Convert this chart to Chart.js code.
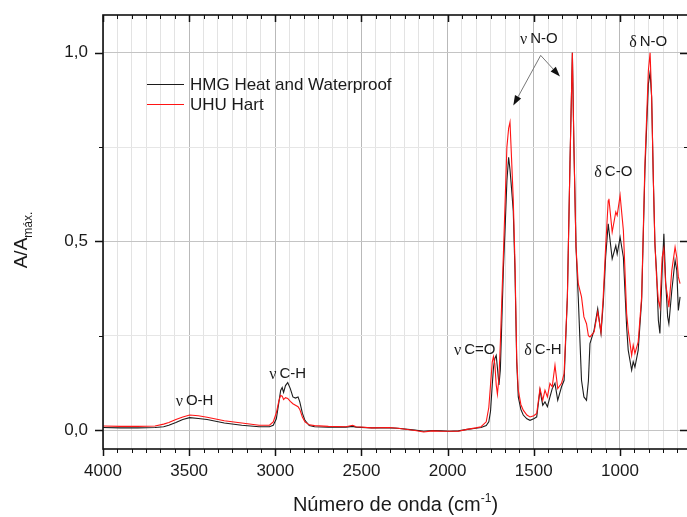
<!DOCTYPE html>
<html>
<head>
<meta charset="utf-8">
<script src="https://cdn.jsdelivr.net/npm/chart.js@4.4.0/dist/chart.umd.min.js"></script>
<style>
html, body { margin: 0; padding: 0; background: #fff; overflow: hidden; }
#wrap { position: relative; width: 689px; height: 517px; }
</style>
</head>
<body>
<div id="wrap"><canvas id="spectrum"></canvas></div>
<script>
// FTIR spectra of two adhesives, absorbance normalised to the max

const wavenumbers = [4000, 3899, 3799, 3698, 3648, 3618, 3577, 3537, 3497, 3447, 3396, 3296, 3195, 3094, 3034, 3012,
    2994, 2979, 2969, 2960, 2952, 2941, 2928, 2913, 2898, 2883, 2868, 2858, 2843, 2828, 2803, 2772, 2692, 2591, 2551,
    2531, 2440, 2340, 2289, 2189, 2139, 2088, 2038, 1988, 1937, 1887, 1837, 1806, 1776, 1761, 1751, 1741, 1734, 1726,
    1718, 1711, 1702, 1694, 1686, 1676, 1666, 1656, 1646, 1638, 1629, 1619, 1609, 1599, 1590, 1575, 1561, 1540, 1522,
    1500, 1483, 1464, 1448, 1435, 1421, 1406, 1393, 1377, 1361, 1339, 1324, 1305, 1290, 1276, 1267, 1255, 1242, 1223,
    1209, 1194, 1183, 1174, 1150, 1129, 1110, 1097, 1083, 1068, 1064, 1045, 1024, 1016, 999, 980, 961, 952, 932, 923,
    913, 894, 874, 855, 835, 825, 816, 806, 797, 787, 777, 768, 755, 745, 735, 723, 716, 699, 680, 670, 661, 651];

const hmgValues = [0.007, 0.006, 0.006, 0.007, 0.009, 0.013, 0.020, 0.028, 0.033, 0.031, 0.028, 0.019, 0.013, 0.009, 0.009, 0.013,
    0.030, 0.075, 0.105, 0.113, 0.100, 0.118, 0.126, 0.110, 0.088, 0.085, 0.088, 0.075, 0.045, 0.026, 0.012, 0.009, 0.008, 0.008, 0.010,
    0.008, 0.006, 0.006, 0.005, 0.000, -0.003, -0.001, -0.002, -0.003, -0.002, 0.002, 0.005, 0.007, 0.012, 0.022, 0.050, 0.120, 0.165, 0.190,
    0.198, 0.165, 0.120, 0.160, 0.280, 0.430, 0.540, 0.660, 0.723, 0.690, 0.640, 0.580, 0.420, 0.180, 0.088, 0.055, 0.040, 0.030, 0.026,
    0.030, 0.035, 0.106, 0.066, 0.075, 0.062, 0.088, 0.110, 0.124, 0.079, 0.115, 0.132, 0.353, 0.706, 1.000, 0.749, 0.485, 0.353, 0.132,
    0.088, 0.079, 0.130, 0.229, 0.265, 0.322, 0.256, 0.335, 0.458, 0.547, 0.547, 0.454, 0.489, 0.467, 0.511, 0.458, 0.273, 0.212, 0.159, 0.181,
    0.167, 0.212, 0.344, 0.688, 0.917, 0.948, 0.882, 0.661, 0.494, 0.415, 0.291, 0.256, 0.423, 0.520, 0.397, 0.300, 0.282, 0.370, 0.450, 0.423, 0.317, 0.353];

const uhuValues = [0.011, 0.010, 0.010, 0.011, 0.016, 0.020, 0.028, 0.035, 0.040, 0.038, 0.034, 0.025, 0.019, 0.013, 0.013, 0.022,
    0.046, 0.078, 0.092, 0.090, 0.081, 0.086, 0.084, 0.076, 0.070, 0.066, 0.062, 0.055, 0.035, 0.022, 0.014, 0.012, 0.010, 0.009, 0.013,
    0.009, 0.006, 0.007, 0.005, -0.001, -0.005, -0.002, -0.003, -0.003, -0.003, 0.002, 0.006, 0.009, 0.022, 0.060, 0.120, 0.180, 0.195, 0.175,
    0.120, 0.095, 0.140, 0.230, 0.340, 0.470, 0.610, 0.750, 0.800, 0.816, 0.720, 0.610, 0.440, 0.190, 0.106, 0.068, 0.053, 0.040, 0.035,
    0.038, 0.044, 0.110, 0.079, 0.106, 0.088, 0.124, 0.115, 0.172, 0.110, 0.124, 0.150, 0.353, 0.706, 1.000, 0.749, 0.485, 0.388, 0.353,
    0.300, 0.282, 0.250, 0.247, 0.260, 0.313, 0.260, 0.353, 0.485, 0.608, 0.613, 0.525, 0.578, 0.569, 0.622, 0.529, 0.309, 0.265, 0.198, 0.225,
    0.203, 0.234, 0.353, 0.706, 0.952, 1.000, 0.882, 0.661, 0.494, 0.401, 0.344, 0.326, 0.458, 0.481, 0.388, 0.353, 0.326, 0.423, 0.485, 0.458, 0.406, 0.388];

const seriesNames = ['HMG Heat and Waterproof', 'UHU Hart'];
const seriesColors = ['#1c1c1c', '#ff1414'];

const xMajorTicks = [4000, 3500, 3000, 2500, 2000, 1500, 1000, 500];
const xMinorSteps = 6;
const yTicks = [0, 0.25, 0.5, 0.75, 1.0];
const yTickLabels = ['0,0', '', '0,5', '', '1,0'];

// band assignments: greek letter, group, anchor (wavenumber, absorbance)
const bandLabels = [
    { greek: 'ν', text: 'O-H', wn: 3578, a: 0.077 },
    { greek: 'ν', text: 'C-H', wn: 3035, a: 0.150 },
    { greek: 'ν', text: 'C=O', wn: 1963, a: 0.214 },
    { greek: 'δ', text: 'C-H', wn: 1555, a: 0.214 },
    { greek: 'ν', text: 'N-O', wn: 1580, a: 1.037 },
    { greek: 'δ', text: 'C-O', wn: 1149, a: 0.684 },
    { greek: 'δ', text: 'N-O', wn: 946, a: 1.028 }
];
const arrowFrom = { wn: 1460, a: 0.993 };
const arrowTo = [{ wn: 1619, a: 0.860 }, { wn: 1348, a: 0.937 }];

const SANS = '"Liberation Sans", Arial, sans-serif';
const SERIF = '"Liberation Serif", "Times New Roman", serif';
const TEXT = '#1a1a1a';

// all x tick positions (majors plus minor subdivisions)
const xTickValues = [];
xMajorTicks.forEach(m => {
    for (let i = 0; i < xMinorSteps; i++) {
        const v = m - i * 500 / xMinorSteps;
        if (v >= 605 && v <= 4000) xTickValues.push(v);
    }
});

function isMajorX(v) {
    return Math.abs(v / 500 - Math.round(v / 500)) < 1e-6;
}
function isMajorY(v) {
    return Math.abs(v / 0.5 - Math.round(v / 0.5)) < 1e-6;
}

const framePlugin = {
    id: 'frame',
    afterDraw(chart) {
        const { ctx, chartArea: a, scales: { x, y } } = chart;
        ctx.save();

        // ticks
        ctx.strokeStyle = '#111';
        x.ticks.forEach(t => {
            const px = Math.round(x.getPixelForValue(t.value)) + 0.5;
            const major = isMajorX(t.value);
            const len = major ? 7 : 4;
            ctx.lineWidth = major ? 1.5 : 1;
            ctx.beginPath();
            ctx.moveTo(px, a.bottom); ctx.lineTo(px, a.bottom + len);
            ctx.moveTo(px, a.top); ctx.lineTo(px, a.top + len);
            ctx.stroke();
        });
        y.ticks.forEach(t => {
            const py = Math.round(y.getPixelForValue(t.value)) + 0.5;
            const major = isMajorY(t.value);
            const len = major ? 8 : 4;
            ctx.lineWidth = major ? 1.5 : 1;
            ctx.beginPath();
            ctx.moveTo(a.left - len, py); ctx.lineTo(a.left, py);
            ctx.moveTo(a.right - len, py); ctx.lineTo(a.right, py);
            ctx.stroke();
        });

        // frame
        ctx.lineWidth = 1.6;
        ctx.strokeRect(a.left, a.top, a.right - a.left, a.bottom - a.top);

        // x title with superscript
        ctx.fillStyle = TEXT;
        ctx.textBaseline = 'alphabetic';
        ctx.textAlign = 'left';
        const main = 'Número de onda (cm';
        ctx.font = '20px ' + SANS;
        const w1 = ctx.measureText(main).width;
        const w3 = ctx.measureText(')').width;
        ctx.font = '12px ' + SANS;
        const w2 = ctx.measureText('-1').width;
        let tx = (a.left + a.right) / 2 - (w1 + w2 + w3) / 2;
        const ty = 511;
        ctx.font = '20px ' + SANS;
        ctx.fillText(main, tx, ty);
        ctx.font = '12px ' + SANS;
        ctx.fillText('-1', tx + w1, ty - 9);
        ctx.font = '20px ' + SANS;
        ctx.fillText(')', tx + w1 + w2, ty);

        // y title with subscript, rotated
        ctx.save();
        ctx.translate(27, 240);
        ctx.rotate(-Math.PI / 2);
        ctx.font = '19px ' + SANS;
        const yw1 = ctx.measureText('A/A').width;
        ctx.font = '12px ' + SANS;
        const yw2 = ctx.measureText('máx.').width;
        const ys = -(yw1 + yw2) / 2;
        ctx.font = '19px ' + SANS;
        ctx.fillText('A/A', ys, 0);
        ctx.font = '12px ' + SANS;
        ctx.fillText('máx.', ys + yw1, 5);
        ctx.restore();

        // legend
        const legendX = 147, legendY = [84.5, 104.5];
        seriesNames.forEach((name, i) => {
            ctx.strokeStyle = seriesColors[i];
            ctx.lineWidth = 1;
            ctx.beginPath();
            ctx.moveTo(legendX, legendY[i]); ctx.lineTo(legendX + 37, legendY[i]);
            ctx.stroke();
            ctx.fillStyle = TEXT;
            ctx.font = '17px ' + SANS;
            ctx.textBaseline = 'middle';
            ctx.fillText(name, legendX + 43, legendY[i] + 1);
        });

        // band labels
        ctx.textBaseline = 'middle';
        bandLabels.forEach(b => {
            const px = x.getPixelForValue(b.wn);
            const py = y.getPixelForValue(b.a);
            ctx.font = '16px ' + SERIF;
            ctx.fillText(b.greek, px, py + 1);
            const gw = ctx.measureText(b.greek).width;
            ctx.font = '15px ' + SANS;
            ctx.fillText(b.text, px + gw + 3, py);
        });

        // arrows for the N-O stretch
        const ax = x.getPixelForValue(arrowFrom.wn);
        const ay = y.getPixelForValue(arrowFrom.a);
        arrowTo.forEach(t => {
            const bx = x.getPixelForValue(t.wn);
            const by = y.getPixelForValue(t.a);
            const ang = Math.atan2(by - ay, bx - ax);
            const hl = 10, hw = 3.5;
            const baseX = bx - hl * Math.cos(ang), baseY = by - hl * Math.sin(ang);
            ctx.strokeStyle = '#777';
            ctx.lineWidth = 1;
            ctx.beginPath();
            ctx.moveTo(ax, ay); ctx.lineTo(baseX, baseY);
            ctx.stroke();
            ctx.fillStyle = '#111';
            ctx.beginPath();
            ctx.moveTo(bx, by);
            ctx.lineTo(baseX + hw * Math.sin(ang), baseY - hw * Math.cos(ang));
            ctx.lineTo(baseX - hw * Math.sin(ang), baseY + hw * Math.cos(ang));
            ctx.closePath();
            ctx.fill();
        });

        ctx.restore();
    }
};

const ctx = document.getElementById('spectrum').getContext('2d');
new Chart(ctx, {
    type: 'line',
    data: {
        datasets: [
            {
                label: seriesNames[0],
                data: wavenumbers.map((w, i) => ({ x: w, y: hmgValues[i] })),
                borderColor: seriesColors[0],
                borderWidth: 1.1,
                pointRadius: 0,
                tension: 0,
                order: 2
            },
            {
                label: seriesNames[1],
                data: wavenumbers.map((w, i) => ({ x: w, y: uhuValues[i] })),
                borderColor: seriesColors[1],
                borderWidth: 1.1,
                pointRadius: 0,
                tension: 0,
                order: 1
            }
        ]
    },
    options: {
        responsive: true,
        maintainAspectRatio: false,
        animation: false,
        layout: { padding: { top: 15, right: 1, left: 0, bottom: 0 } },
        plugins: {
            legend: { display: false },
            tooltip: { enabled: false }
        },
        scales: {
            x: {
                type: 'linear',
                reverse: true,
                min: 605,
                max: 4000,
                afterBuildTicks: s => { s.ticks = xTickValues.map(v => ({ value: v })); },
                afterFit: s => { s.height = 68; s.paddingLeft = 0; s.paddingRight = 0; },
                border: { display: false },
                grid: {
                    drawTicks: false,
                    color: c => isMajorX(c.tick.value) ? '#b9b9b9' : '#e3e3e3',
                    lineWidth: 1
                },
                ticks: {
                    autoSkip: false,
                    maxRotation: 0,
                    padding: 12,
                    color: TEXT,
                    font: { family: SANS, size: 17 },
                    callback: v => isMajorX(v) ? String(Math.round(v)) : ''
                }
            },
            y: {
                min: -0.05,
                max: 1.1,
                afterBuildTicks: s => { s.ticks = yTicks.map(v => ({ value: v })); },
                afterFit: s => { s.width = 103; s.paddingTop = 0; s.paddingBottom = 0; },
                border: { display: false },
                grid: {
                    drawTicks: false,
                    color: c => isMajorY(c.tick.value) ? '#c4c4c4' : '#e6e6e6',
                    lineWidth: 1
                },
                ticks: {
                    padding: 15,
                    color: TEXT,
                    font: { family: SANS, size: 17 },
                    callback: (v, i) => yTickLabels[yTicks.indexOf(v)] || ''
                }
            }
        }
    },
    plugins: [framePlugin]
});
</script>
</body>
</html>
